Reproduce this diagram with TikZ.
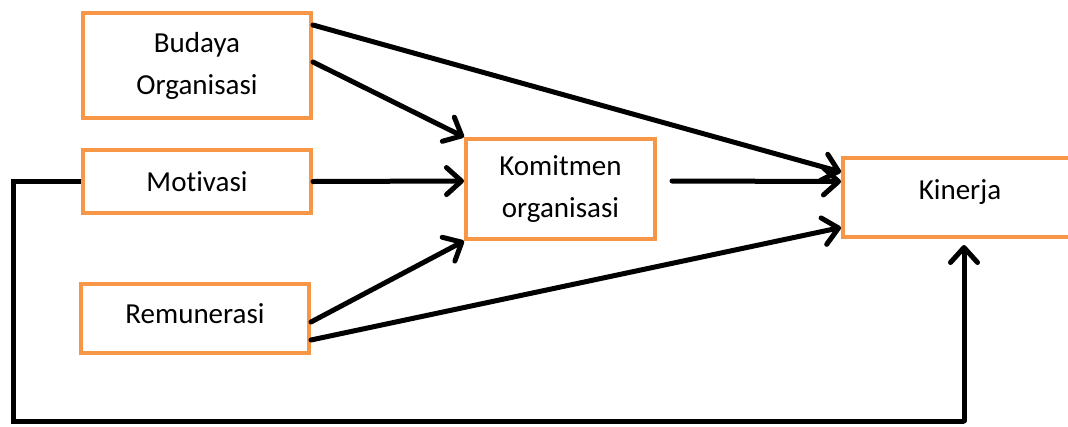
\documentclass[tikz,border=0pt]{standalone}
\usepackage{fontspec}
\setmainfont[Ligatures={NoCommon,NoRequired}]{Carlito}
\usetikzlibrary{arrows.meta}
\definecolor{boxorange}{HTML}{F79646}
\begin{document}
\begin{tikzpicture}[x=1pt,y=-1pt,
  box/.style={draw=boxorange,line width=4pt,fill=white,inner sep=0pt,
    align=center,font=\fontsize{29}{42}\selectfont},
  link/.style={line width=5pt,line cap=round,line join=round,
    -{Straight Barb[length=15pt,width=27pt,round]}},
  plainlink/.style={line width=5pt,line join=miter}]
\clip (0,0) rectangle (1068,426);
\fill[white] (0,0) rectangle (1068,426);

% variable boxes
\node[box,minimum width=228pt,minimum height=105pt] (bud) at (197,65.5) {Budaya\\Organisasi};
\node[box,minimum width=228pt,minimum height=63pt] (mot) at (197,181.5) {Motivasi};
\node[box,minimum width=228pt,minimum height=69pt,text depth=10pt] (rem) at (195,318.5) {Remunerasi};
\node[box,minimum width=189pt,minimum height=100pt] (kom) at (560.5,189) {Komitmen\\organisasi};
\node[box,minimum width=234pt,minimum height=79pt,text depth=16pt] (kin) at (960,197.5) {Kinerja};

% direct paths
\draw[link] ([yshift=-14pt]bud.north east) -- ([yshift=25.5pt]kin.west);
\draw[link] ([yshift=3.5pt]bud.east) -- (kom.north west);
\draw[link] (mot.east) -- ([yshift=8pt]kom.west);
\draw[link] ([yshift=-3.5pt]rem.east) -- (kom.south west);
\draw[link] ([yshift=-21.5pt]rem.east) -- ([yshift=-30pt]kin.west);
\draw[link] ([xshift=15pt,yshift=8pt]kom.east) -- ([yshift=16pt]kin.west);

% feedback path from Motivasi round the bottom to Kinerja
\coordinate (corner) at (13,421);
\coordinate (up) at (964,421);
\draw[plainlink] (mot.west) -| (corner) -- (up);
\draw[link] (up) -- ([xshift=4pt,yshift=-6pt]kin.south);
\end{tikzpicture}
\end{document}
